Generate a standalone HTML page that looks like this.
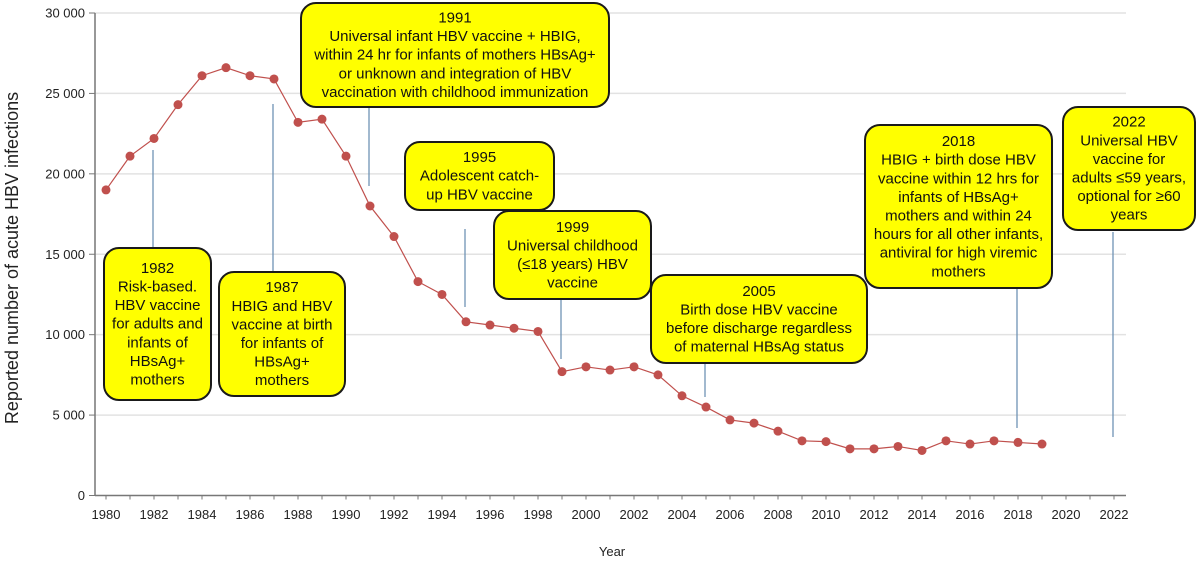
<!DOCTYPE html>
<html><head><meta charset="utf-8"><style>
body{margin:0;background:#fff;}
svg{display:block;font-family:"Liberation Sans","DejaVu Sans",sans-serif;}
.box text{font-size:15px;fill:#111;text-anchor:middle;}
</style></head><body>
<svg id="chart" width="1199" height="562" viewBox="0 0 1199 562" xmlns="http://www.w3.org/2000/svg">
<g id="grid"></g>
<g id="axes"></g>
<g id="notes"></g>
<g id="series"></g>
<text transform="translate(18,258) rotate(-90)" text-anchor="middle" font-size="18" fill="#222">Reported number of acute HBV infections</text>
<text x="612" y="556" text-anchor="middle" font-size="13" fill="#222">Year</text>
</svg>
<script>
const years=[1980,1981,1982,1983,1984,1985,1986,1987,1988,1989,1990,1991,1992,1993,1994,1995,1996,1997,1998,1999,2000,2001,2002,2003,2004,2005,2006,2007,2008,2009,2010,2011,2012,2013,2014,2015,2016,2017,2018,2019];
const cases=[19000,21100,22200,24300,26100,26600,26100,25900,23200,23400,21100,18000,16100,13300,12500,10800,10600,10400,10200,7700,8000,7800,8000,7500,6200,5500,4700,4500,4000,3400,3350,2900,2900,3050,2800,3400,3200,3400,3300,3200];
const yTicks=[0,5000,10000,15000,20000,25000,30000];
const yTickLabels=["0","5 000","10 000","15 000","20 000","25 000","30 000"];
const xTickYears=[1980,1982,1984,1986,1988,1990,1992,1994,1996,1998,2000,2002,2004,2006,2008,2010,2012,2014,2016,2018,2020,2022];
const noteYears=[1982,1987,1991,1995,1999,2005,2018,2022];
const noteTexts=[
["1982","Risk-based.","HBV vaccine","for adults and","infants of","HBsAg+","mothers"],
["1987","HBIG and HBV","vaccine at birth","for infants of","HBsAg+","mothers"],
["1991","Universal infant HBV vaccine + HBIG,","within 24 hr for infants of mothers HBsAg+","or unknown and integration of HBV","vaccination with childhood immunization"],
["1995","Adolescent catch-","up HBV vaccine"],
["1999","Universal childhood","(≤18 years) HBV","vaccine"],
["2005","Birth dose HBV vaccine","before discharge regardless","of maternal HBsAg status"],
["2018","HBIG + birth dose HBV","vaccine within 12 hrs for","infants of HBsAg+","mothers and within 24","hours for all other infants,","antiviral for high viremic","mothers"],
["2022","Universal HBV","vaccine for","adults ≤59 years,","optional for ≥60","years"]];
// layout (pixel) for annotation boxes: [x,y,w,h, leaderTop, leaderBottom]
const noteLayout=[[104,248,107,152,150,248],[219,272,126,124,104,272],[301,3,308,104,107,186],[405,142,149,68,229,307],[494,211,157,88,300,359],[651,275,216,88,364,397],[865,125,187,163,288,428],[1063,107,132,123,232,437]];
const NS="http://www.w3.org/2000/svg";
const X0=106,XW=24.0,Y0=495.5,YH=482.5/30000,XL=95,XR=1126;
const xs=y=>X0+(y-1980)*XW, ys=v=>Y0-v*YH;
function mk(t,a,p){const e=document.createElementNS(NS,t);for(const k in a)e.setAttribute(k,a[k]);p.appendChild(e);return e;}
const grid=document.getElementById('grid'),axes=document.getElementById('axes'),notes=document.getElementById('notes'),series=document.getElementById('series');
yTicks.forEach((v,i)=>{
 if(v>0){const g=mk('line',{x1:XL,x2:XR,y1:ys(v),y2:ys(v),stroke:'#e2e2e2','stroke-width':1.5},grid);
 
 }
 const tk=mk('line',{x1:XL-6,x2:XL,y1:ys(v),y2:ys(v),stroke:'#777'},axes);
 
 
 const t=mk('text',{x:XL-10,y:ys(v)+4.5,'text-anchor':'end','font-size':13,fill:'#222'},axes);
 t.textContent=yTickLabels[i];
 
 
});
const ya=mk('line',{x1:XL,x2:XL,y1:ys(30000),y2:Y0,stroke:'#777','stroke-width':1.5},axes);


const xa=mk('line',{x1:XL,x2:XR,y1:Y0,y2:Y0,stroke:'#777','stroke-width':1.5},axes);


for(let y=1980;y<=2022;y++){const tk=mk('line',{x1:xs(y),x2:xs(y),y1:Y0,y2:Y0+4,stroke:'#777'},axes);
 
 }
xTickYears.forEach(y=>{const t=mk('text',{x:xs(y),y:519,'text-anchor':'middle','font-size':13,fill:'#222'},axes);
 t.textContent=y;
 
 });
noteYears.forEach((yr,i)=>{
 const L=noteLayout[i];
 const ln=mk('line',{x1:xs(yr)-1,x2:xs(yr)-1,y1:L[4],y2:L[5],stroke:'#6f93b5','stroke-width':1.3},notes);
 
 
 const g=mk('g',{class:'box'},notes);
 
 
 mk('rect',{x:L[0],y:L[1],width:L[2],height:L[3],rx:15,fill:'#ffff00',stroke:'#1a1a1a','stroke-width':2},g);
 const lines=noteTexts[i],lh=18.6,tot=lines.length*lh,top=L[1]+(L[3]-tot)/2;
 lines.forEach((s,j)=>{const t=mk('text',{x:L[0]+L[2]/2,y:top+j*lh+14},g);t.textContent=s;});
});
const pts=years.map((y,i)=>xs(y)+','+ys(cases[i])).join(' ');
const pl=mk('polyline',{points:pts,fill:'none',stroke:'#c0504d','stroke-width':1.2},series);


years.forEach((y,i)=>{const c=mk('circle',{cx:xs(y),cy:ys(cases[i]),r:4.5,fill:'#c0504d'},series);
 
 });
</script>
</body></html>
